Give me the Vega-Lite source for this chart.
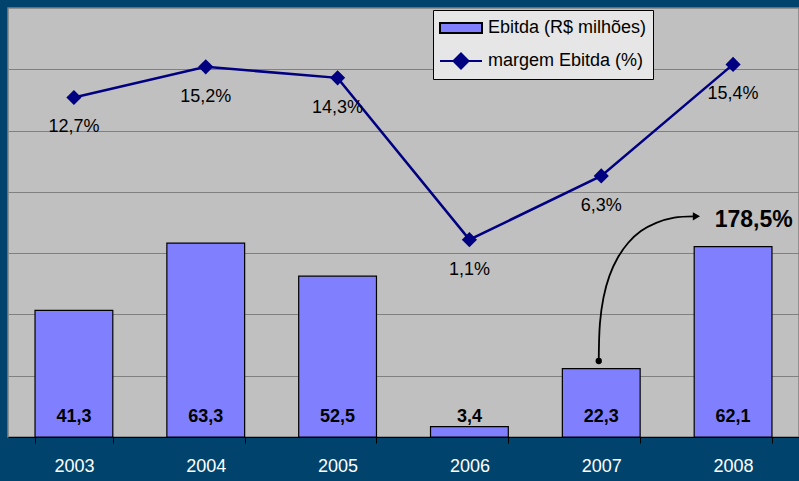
{
  "$schema": "https://vega.github.io/schema/vega-lite/v6.json",
  "width": 791,
  "height": 429,
  "padding": {"left": 8, "top": 8, "right": 0, "bottom": 6},
  "background": "#00446E",
  "config": {
    "locale": {"number": {"decimal": ",", "thousands": ".", "grouping": [3], "currency": ["R$ ", ""]}},
    "view": {"fill": "#C0C0C0", "stroke": "#808080", "strokeWidth": 1.5},
    "font": "Liberation Sans"
  },
  "datasets": {
    "main": [
      {"ano": "2003", "ebitda": 41.3, "margem": 0.127},
      {"ano": "2004", "ebitda": 63.3, "margem": 0.152},
      {"ano": "2005", "ebitda": 52.5, "margem": 0.143},
      {"ano": "2006", "ebitda": 3.4, "margem": 0.011},
      {"ano": "2007", "ebitda": 22.3, "margem": 0.063},
      {"ano": "2008", "ebitda": 62.1, "margem": 0.154}
    ],
    "seta": [
      {"part": "curve", "i": 0, "px": 4.481, "py": 24.8},
      {"part": "curve", "i": 1, "px": 4.490, "py": 37.1},
      {"part": "curve", "i": 2, "px": 4.517, "py": 45.5},
      {"part": "curve", "i": 3, "px": 4.562, "py": 52.6},
      {"part": "curve", "i": 4, "px": 4.625, "py": 58.5},
      {"part": "curve", "i": 5, "px": 4.705, "py": 63.4},
      {"part": "curve", "i": 6, "px": 4.801, "py": 67.2},
      {"part": "curve", "i": 7, "px": 4.917, "py": 69.9},
      {"part": "curve", "i": 8, "px": 5.054, "py": 71.6},
      {"part": "curve", "i": 9, "px": 5.203, "py": 72.0},
      {"part": "dot", "i": 0, "px": 4.481, "py": 24.8},
      {"part": "head", "i": 0, "px": 5.222, "py": 72.0},
      {"part": "label", "i": 0, "px": 5.36, "py": 70.8, "valor": 1.785}
    ]
  },
  "resolve": {"scale": {"x": "independent", "y": "independent"}},
  "layer": [
    {
      "data": {"name": "main"},
      "encoding": {
        "x": {
          "field": "ano", "type": "ordinal",
          "scale": {"paddingInner": 0.41, "paddingOuter": 0.205},
          "axis": {
            "title": null, "labelAngle": 0, "labelColor": "white", "labelFontSize": 18,
            "labelPadding": 14, "tickBand": "extent", "tickSize": 6, "tickColor": "black",
            "domainColor": "black", "domainWidth": 1
          }
        },
        "y": {
          "field": "ebitda", "type": "quantitative",
          "scale": {"domain": [0, 140], "nice": false},
          "axis": {
            "title": null, "grid": true, "values": [20, 40, 60, 80, 100, 120],
            "labels": false, "ticks": false, "domain": false, "gridColor": "#808080", "gridWidth": 1
          }
        }
      },
      "layer": [
        {
          "mark": {"type": "bar", "stroke": "black", "strokeWidth": 1.2},
          "encoding": {
            "color": {
              "datum": "Ebitda (R$ milhões)", "type": "nominal",
              "scale": {"domain": ["Ebitda (R$ milhões)", "margem Ebitda (%)"], "range": ["#8080FF", "#000080"]},
              "legend": {
                "orient": "none", "legendX": 425, "legendY": 2, "title": null,
                "fillColor": "#E6E6E6", "strokeColor": "black", "padding": 6,
                "labelFontSize": 18, "labelColor": "black", "labelOffset": 5,
                "symbolSize": 1764, "clipHeight": 24, "rowPadding": 9,
                "symbolOpacity": 1,
                "symbolStrokeWidth": 2,
                "symbolStrokeColor": {"expr": "datum.value === 'margem Ebitda (%)' ? '#000080' : 'black'"},
                "symbolType": {"expr": "datum.value === 'margem Ebitda (%)' ? 'M-1,0L1,0M0,-0.36L0.36,0L0,0.36L-0.36,0Z' : 'M-1,-0.24L1,-0.24L1,0.24L-1,0.24Z'"}
              }
            }
          }
        },
        {
          "mark": {"type": "text", "fontWeight": "bold", "fontSize": 18, "baseline": "alphabetic", "dy": -15, "color": "black"},
          "encoding": {
            "y": {"datum": 0},
            "text": {"field": "ebitda", "type": "quantitative", "format": ".1f"}
          }
        }
      ]
    },
    {
      "data": {"name": "main"},
      "encoding": {
        "x": {"field": "ano", "type": "ordinal", "axis": null},
        "y": {
          "field": "margem", "type": "quantitative",
          "scale": {"domain": [-0.15, 0.2], "nice": false, "zero": false},
          "axis": null
        }
      },
      "layer": [
        {
          "mark": {"type": "line", "strokeWidth": 2.5, "color": "#000080"}
        },
        {
          "mark": {"type": "point", "shape": "diamond", "size": 230, "filled": true, "color": "#000080", "opacity": 1}
        },
        {
          "mark": {"type": "text", "fontSize": 18, "baseline": "alphabetic", "dy": 35, "color": "black"},
          "encoding": {"text": {"field": "margem", "type": "quantitative", "format": ".1%"}}
        }
      ]
    },
    {
      "data": {"name": "seta"},
      "encoding": {
        "x": {"field": "px", "type": "quantitative", "scale": {"domain": [0, 6], "nice": false, "zero": false}, "axis": null},
        "y": {"field": "py", "type": "quantitative", "scale": {"domain": [0, 140], "nice": false}, "axis": null}
      },
      "layer": [
        {
          "transform": [{"filter": "datum.part === 'curve'"}],
          "mark": {"type": "line", "interpolate": "catmull-rom", "color": "black", "strokeWidth": 1.8},
          "encoding": {"order": {"field": "i", "type": "quantitative"}}
        },
        {
          "transform": [{"filter": "datum.part === 'dot'"}],
          "mark": {"type": "point", "shape": "circle", "filled": true, "color": "black", "size": 40, "opacity": 1}
        },
        {
          "transform": [{"filter": "datum.part === 'head'"}],
          "mark": {"type": "point", "shape": "triangle-right", "filled": true, "color": "black", "size": 70, "opacity": 1}
        },
        {
          "transform": [{"filter": "datum.part === 'label'"}],
          "mark": {"type": "text", "fontSize": 23, "fontWeight": "bold", "align": "left", "baseline": "middle", "color": "black"},
          "encoding": {"text": {"field": "valor", "type": "quantitative", "format": ".1%"}}
        }
      ]
    }
  ]
}
